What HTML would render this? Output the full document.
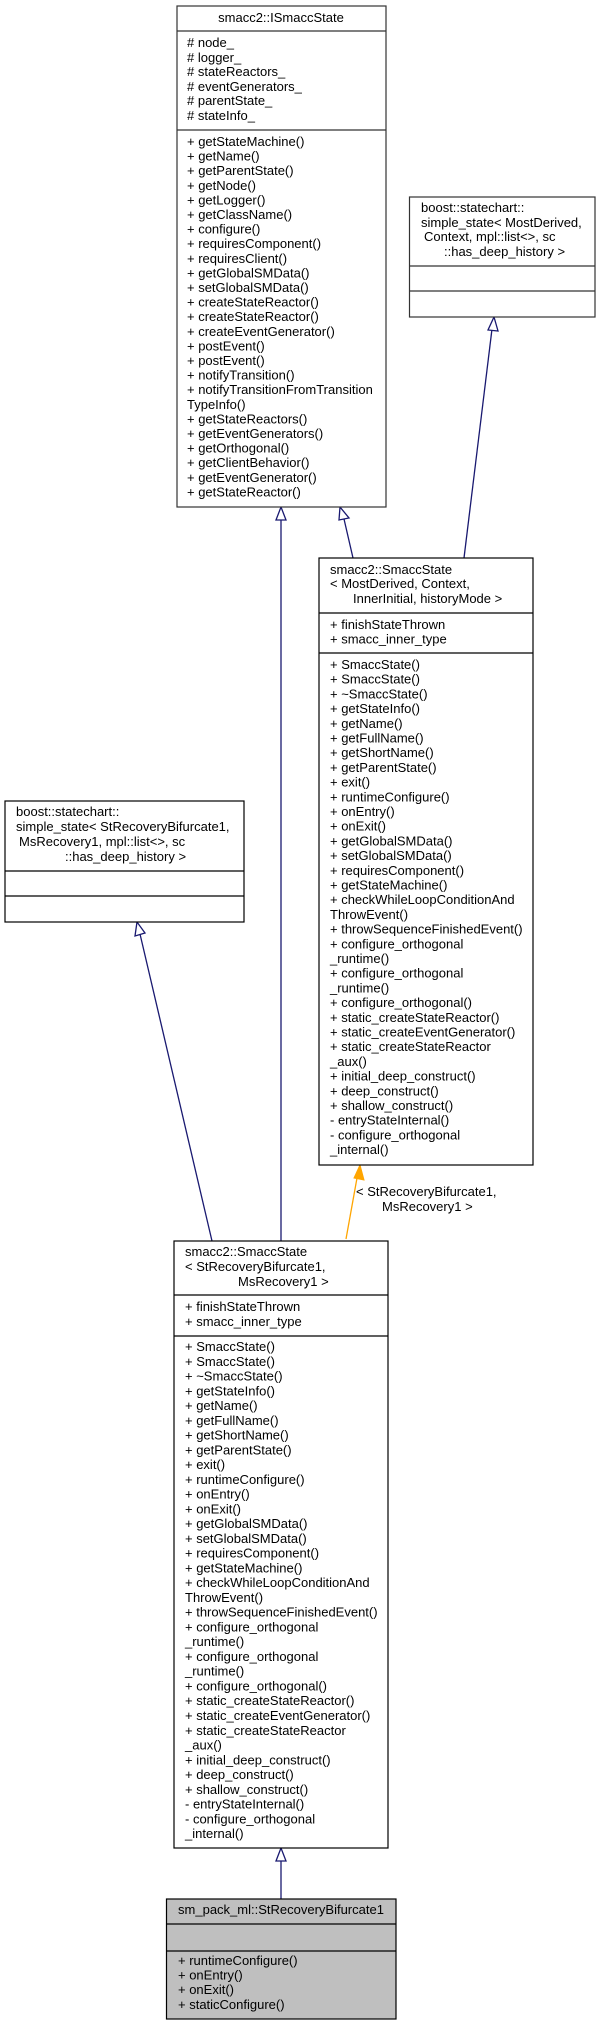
<!DOCTYPE html>
<html><head><meta charset="utf-8"><style>
html,body{margin:0;padding:0;background:#fff}
svg{display:block}
text{font-family:"Liberation Sans",Arial,sans-serif;font-size:13px;fill:#000}
</style></head><body>
<svg width="597" height="2021" viewBox="0 0 597 2021" xmlns="http://www.w3.org/2000/svg">
<!-- edges -->
<g stroke="#191970" stroke-width="1.3" fill="none">
<line x1="281" y1="520" x2="281" y2="1241"/>
<line x1="344" y1="519" x2="353" y2="558"/>
<line x1="492" y1="329" x2="464" y2="558"/>
<line x1="140" y1="934" x2="212" y2="1241"/>
<line x1="281" y1="1861" x2="281" y2="1899"/>
</g>
<g stroke="#191970" stroke-width="1.3" fill="#fff">
<polygon points="281,507 276,520 286,520"/>
<polygon points="340,507 339,520 349,518"/>
<polygon points="494,317 488,330 498,331"/>
<polygon points="137,922 135,936 145,933"/>
<polygon points="281,1848 276,1861 286,1861"/>
</g>
<line x1="346" y1="1239" x2="357" y2="1178" stroke="#FFA500" stroke-width="1.3"/>
<polygon points="360,1165 354,1178 364,1180" fill="#FFA500" stroke="#FFA500"/>
<text x="356" y="1196">&lt; StRecoveryBifurcate1,</text>
<text x="382" y="1211">MsRecovery1 &gt;</text>

<!-- ISmaccState -->
<g stroke="#333" stroke-width="1.2" fill="#fff">
<rect x="177" y="6" width="209" height="501"/>
<line x1="177" y1="31" x2="386" y2="31"/>
<line x1="177" y1="130" x2="386" y2="130"/>
</g>
<text x="281" y="22" text-anchor="middle">smacc2::ISmaccState</text>
<g>
<text x="187" y="47"># node_</text>
<text x="187" y="62"># logger_</text>
<text x="187" y="76"># stateReactors_</text>
<text x="187" y="91"># eventGenerators_</text>
<text x="187" y="105"># parentState_</text>
<text x="187" y="120"># stateInfo_</text>
<text x="187" y="146">+ getStateMachine()</text>
<text x="187" y="160.6">+ getName()</text>
<text x="187" y="175.2">+ getParentState()</text>
<text x="187" y="189.8">+ getNode()</text>
<text x="187" y="204.4">+ getLogger()</text>
<text x="187" y="219">+ getClassName()</text>
<text x="187" y="233.6">+ configure()</text>
<text x="187" y="248.2">+ requiresComponent()</text>
<text x="187" y="262.8">+ requiresClient()</text>
<text x="187" y="277.4">+ getGlobalSMData()</text>
<text x="187" y="292">+ setGlobalSMData()</text>
<text x="187" y="306.6">+ createStateReactor()</text>
<text x="187" y="321.2">+ createStateReactor()</text>
<text x="187" y="335.8">+ createEventGenerator()</text>
<text x="187" y="350.4">+ postEvent()</text>
<text x="187" y="365">+ postEvent()</text>
<text x="187" y="379.6">+ notifyTransition()</text>
<text x="187" y="394.2">+ notifyTransitionFromTransition</text>
<text x="187" y="408.8">TypeInfo()</text>
<text x="187" y="423.4">+ getStateReactors()</text>
<text x="187" y="438">+ getEventGenerators()</text>
<text x="187" y="452.6">+ getOrthogonal()</text>
<text x="187" y="467.2">+ getClientBehavior()</text>
<text x="187" y="481.8">+ getEventGenerator()</text>
<text x="187" y="496.4">+ getStateReactor()</text>
</g>

<!-- boost right -->
<g stroke="#333" stroke-width="1.2" fill="#fff">
<rect x="409.5" y="197" width="185.5" height="120"/>
<line x1="409.5" y1="266" x2="595" y2="266"/>
<line x1="409.5" y1="291" x2="595" y2="291"/>
</g>
<text x="421" y="212">boost::statechart::</text>
<text x="421" y="227">simple_state&lt; MostDerived,</text>
<text x="424" y="241">Context, mpl::list&lt;&gt;, sc</text>
<text x="444" y="256">::has_deep_history &gt;</text>

<!-- generic SmaccState -->
<g stroke="#000" stroke-width="1.2" fill="#fff">
<rect x="319" y="558" width="214" height="607"/>
<line x1="319" y1="613" x2="533" y2="613"/>
<line x1="319" y1="653" x2="533" y2="653"/>
</g>
<text x="330" y="574">smacc2::SmaccState</text>
<text x="330" y="588">&lt; MostDerived, Context,</text>
<text x="353" y="603">InnerInitial, historyMode &gt;</text>
<text x="330" y="629">+ finishStateThrown</text>
<text x="330" y="643.5">+ smacc_inner_type</text>
<g>
<text x="330" y="669">+ SmaccState()</text>
<text x="330" y="683.7">+ SmaccState()</text>
<text x="330" y="698.4">+ ~SmaccState()</text>
<text x="330" y="713.1">+ getStateInfo()</text>
<text x="330" y="727.8">+ getName()</text>
<text x="330" y="742.5">+ getFullName()</text>
<text x="330" y="757.2">+ getShortName()</text>
<text x="330" y="771.9">+ getParentState()</text>
<text x="330" y="786.6">+ exit()</text>
<text x="330" y="801.3">+ runtimeConfigure()</text>
<text x="330" y="816">+ onEntry()</text>
<text x="330" y="830.7">+ onExit()</text>
<text x="330" y="845.4">+ getGlobalSMData()</text>
<text x="330" y="860.1">+ setGlobalSMData()</text>
<text x="330" y="874.8">+ requiresComponent()</text>
<text x="330" y="889.5">+ getStateMachine()</text>
<text x="330" y="904.2">+ checkWhileLoopConditionAnd</text>
<text x="330" y="918.9">ThrowEvent()</text>
<text x="330" y="933.6">+ throwSequenceFinishedEvent()</text>
<text x="330" y="948.3">+ configure_orthogonal</text>
<text x="330" y="963">_runtime()</text>
<text x="330" y="977.7">+ configure_orthogonal</text>
<text x="330" y="992.4">_runtime()</text>
<text x="330" y="1007.1">+ configure_orthogonal()</text>
<text x="330" y="1021.8">+ static_createStateReactor()</text>
<text x="330" y="1036.5">+ static_createEventGenerator()</text>
<text x="330" y="1051.2">+ static_createStateReactor</text>
<text x="330" y="1065.9">_aux()</text>
<text x="330" y="1080.6">+ initial_deep_construct()</text>
<text x="330" y="1095.3">+ deep_construct()</text>
<text x="330" y="1110">+ shallow_construct()</text>
<text x="330" y="1124.7">- entryStateInternal()</text>
<text x="330" y="1139.4">- configure_orthogonal</text>
<text x="330" y="1154.1">_internal()</text>
</g>

<!-- boost left -->
<g stroke="#000" stroke-width="1.2" fill="#fff">
<rect x="5" y="801" width="239" height="121"/>
<line x1="5" y1="871" x2="244" y2="871"/>
<line x1="5" y1="896" x2="244" y2="896"/>
</g>
<text x="16" y="816">boost::statechart::</text>
<text x="16" y="831">simple_state&lt; StRecoveryBifurcate1,</text>
<text x="19" y="846">MsRecovery1, mpl::list&lt;&gt;, sc</text>
<text x="65" y="861">::has_deep_history &gt;</text>

<!-- bottom SmaccState -->
<g stroke="#000" stroke-width="1.2" fill="#fff">
<rect x="174" y="1241" width="214" height="607"/>
<line x1="174" y1="1295" x2="388" y2="1295"/>
<line x1="174" y1="1336" x2="388" y2="1336"/>
</g>
<text x="185" y="1256">smacc2::SmaccState</text>
<text x="185" y="1271">&lt; StRecoveryBifurcate1,</text>
<text x="238" y="1286">MsRecovery1 &gt;</text>
<text x="185" y="1311">+ finishStateThrown</text>
<text x="185" y="1326">+ smacc_inner_type</text>
<g>
<text x="185" y="1351">+ SmaccState()</text>
<text x="185" y="1365.76">+ SmaccState()</text>
<text x="185" y="1380.52">+ ~SmaccState()</text>
<text x="185" y="1395.28">+ getStateInfo()</text>
<text x="185" y="1410.04">+ getName()</text>
<text x="185" y="1424.8">+ getFullName()</text>
<text x="185" y="1439.56">+ getShortName()</text>
<text x="185" y="1454.32">+ getParentState()</text>
<text x="185" y="1469.08">+ exit()</text>
<text x="185" y="1483.84">+ runtimeConfigure()</text>
<text x="185" y="1498.6">+ onEntry()</text>
<text x="185" y="1513.36">+ onExit()</text>
<text x="185" y="1528.12">+ getGlobalSMData()</text>
<text x="185" y="1542.88">+ setGlobalSMData()</text>
<text x="185" y="1557.64">+ requiresComponent()</text>
<text x="185" y="1572.4">+ getStateMachine()</text>
<text x="185" y="1587.16">+ checkWhileLoopConditionAnd</text>
<text x="185" y="1601.92">ThrowEvent()</text>
<text x="185" y="1616.68">+ throwSequenceFinishedEvent()</text>
<text x="185" y="1631.44">+ configure_orthogonal</text>
<text x="185" y="1646.2">_runtime()</text>
<text x="185" y="1660.96">+ configure_orthogonal</text>
<text x="185" y="1675.72">_runtime()</text>
<text x="185" y="1690.48">+ configure_orthogonal()</text>
<text x="185" y="1705.24">+ static_createStateReactor()</text>
<text x="185" y="1720">+ static_createEventGenerator()</text>
<text x="185" y="1734.76">+ static_createStateReactor</text>
<text x="185" y="1749.52">_aux()</text>
<text x="185" y="1764.28">+ initial_deep_construct()</text>
<text x="185" y="1779.04">+ deep_construct()</text>
<text x="185" y="1793.8">+ shallow_construct()</text>
<text x="185" y="1808.56">- entryStateInternal()</text>
<text x="185" y="1823.32">- configure_orthogonal</text>
<text x="185" y="1838.08">_internal()</text>
</g>

<!-- final gray -->
<g stroke="#000" stroke-width="1.2" fill="#bfbfbf">
<rect x="166.5" y="1899" width="229.5" height="120"/>
<line x1="166.5" y1="1924" x2="396" y2="1924"/>
<line x1="166.5" y1="1951" x2="396" y2="1951"/>
</g>
<text x="281" y="1914" text-anchor="middle">sm_pack_ml::StRecoveryBifurcate1</text>
<text x="178" y="1965">+ runtimeConfigure()</text>
<text x="178" y="1979.5">+ onEntry()</text>
<text x="178" y="1994">+ onExit()</text>
<text x="178" y="2009">+ staticConfigure()</text>
</svg>
</body></html>
